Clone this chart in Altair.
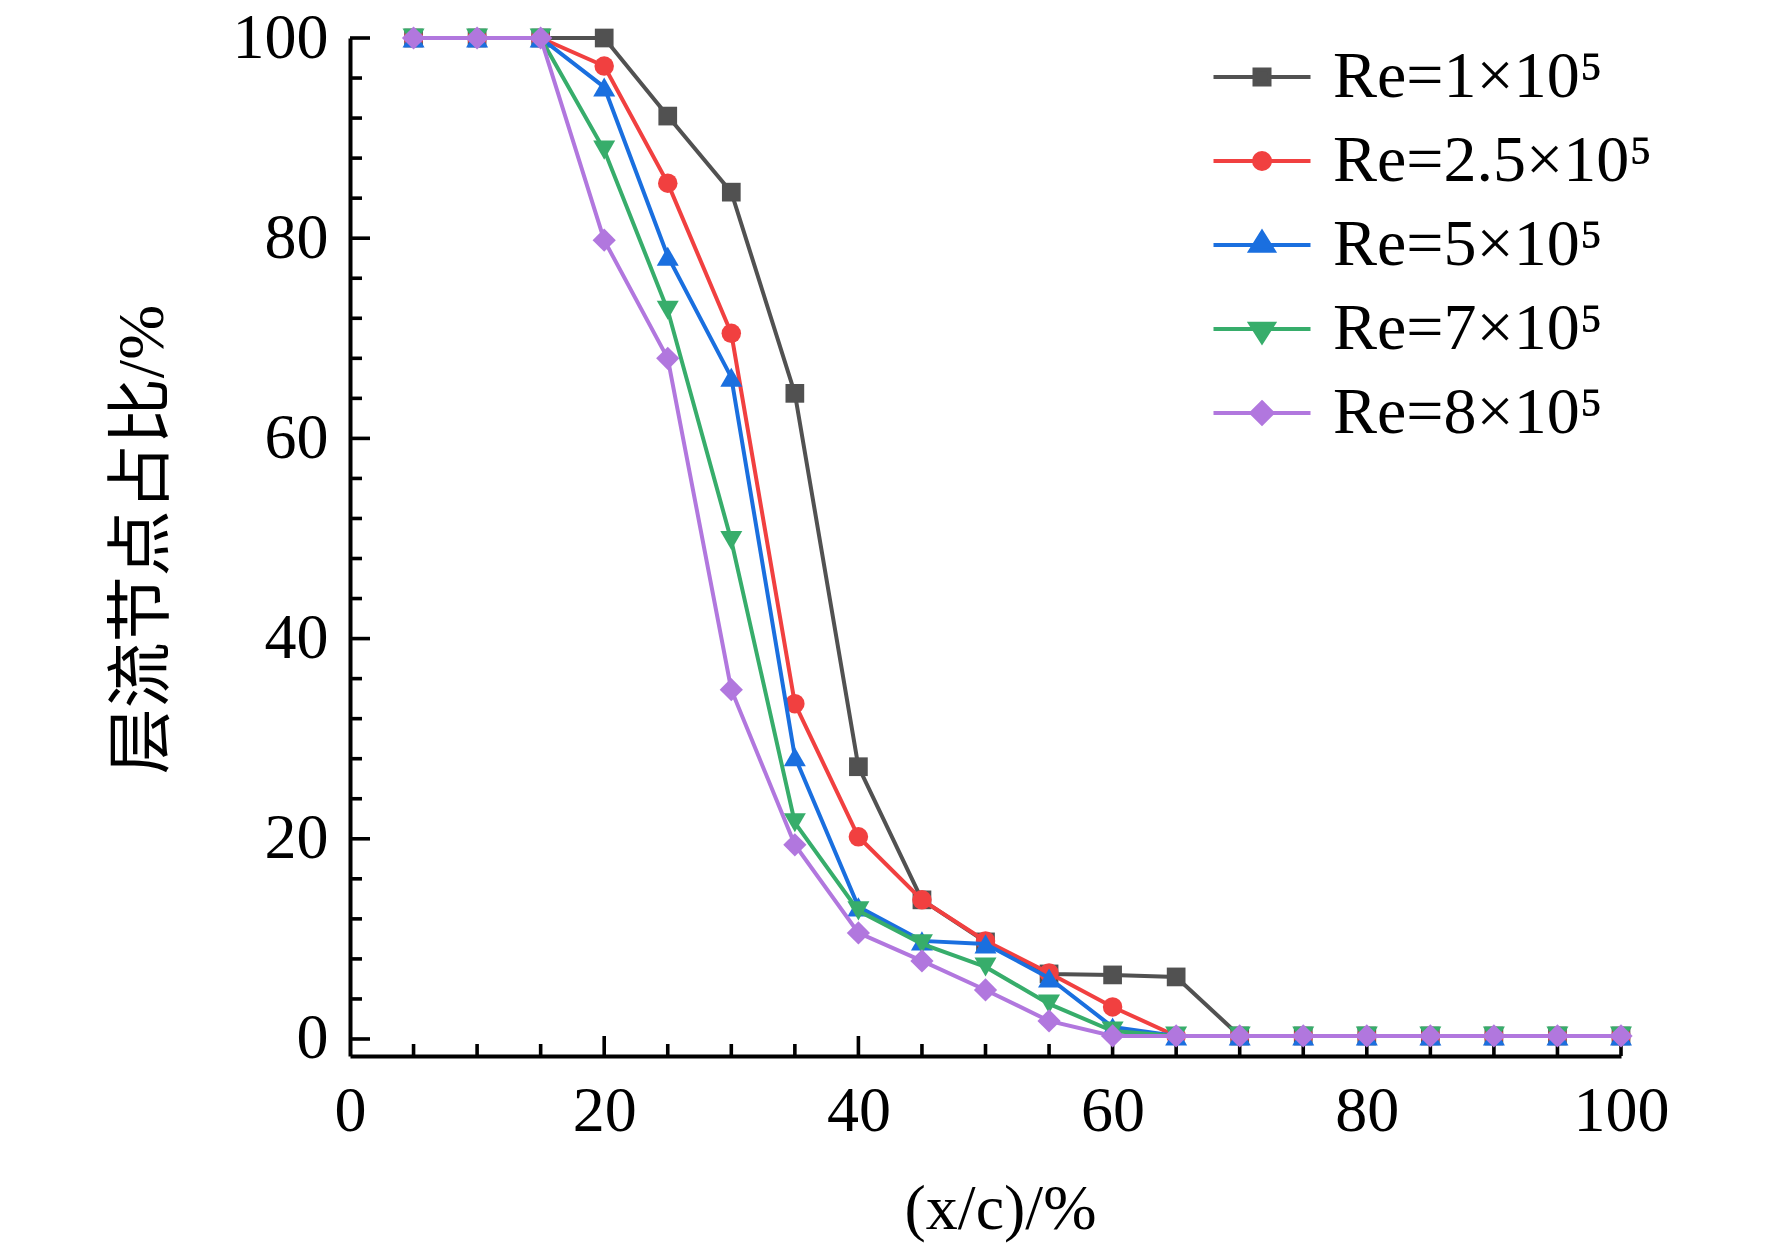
import altair as alt
import pandas as pd

# ---------------- data ----------------
x_pos = [5, 10, 15, 20, 25, 30, 35, 40, 45, 50, 55, 60, 65, 70, 75, 80, 85, 90, 95, 100]

re_1 = [100, 100, 100, 100, 92.2, 84.6, 64.5, 27.2, 13.9, 9.7, 6.5, 6.4, 6.2, 0.3, 0.3, 0.3, 0.3, 0.3, 0.3, 0.3]
re_25 = [100, 100, 100, 97.2, 85.5, 70.5, 33.5, 20.2, 13.9, 9.8, 6.6, 3.2, 0.3, 0.3, 0.3, 0.3, 0.3, 0.3, 0.3, 0.3]
re_5 = [100, 100, 100, 95.1, 78.2, 66.1, 28.2, 13.2, 9.8, 9.5, 6.1, 1.2, 0.3, 0.3, 0.3, 0.3, 0.3, 0.3, 0.3, 0.3]
re_7 = [100, 100, 100, 88.8, 72.8, 49.8, 21.6, 12.8, 9.5, 7.2, 3.5, 0.8, 0.3, 0.3, 0.3, 0.3, 0.3, 0.3, 0.3, 0.3]
re_8 = [100, 100, 100, 79.8, 68.0, 34.9, 19.4, 10.6, 7.8, 4.9, 1.8, 0.3, 0.3, 0.3, 0.3, 0.3, 0.3, 0.3, 0.3, 0.3]

series_labels = ["Re=1×10⁵", "Re=2.5×10⁵", "Re=5×10⁵", "Re=7×10⁵", "Re=8×10⁵"]
series_values = [re_1, re_25, re_5, re_7, re_8]

x_major_ticks = [20, 40, 60, 80, 100]
x_minor_ticks = [5, 10, 15, 25, 30, 35, 45, 50, 55, 65, 70, 75, 85, 90, 95]
y_major_ticks = [0, 20, 40, 60, 80, 100]
y_minor_ticks = [4, 8, 12, 16, 24, 28, 32, 36, 44, 48, 52, 56, 64, 68, 72, 76, 84, 88, 92, 96]
tick_labels = [0, 20, 40, 60, 80, 100]

# ---------------- styles ----------------
colors = ["#515151", "#F14040", "#1A6FDF", "#37AD6B", "#B177DE"]
shapes = ["square", "circle", "triangle-up", "triangle-down", "diamond"]
sizes = [350, 380, 484, 484, 540]
legend_paths = [
    "M-2.425,0H2.425M-0.375,-0.375H0.375V0.375H-0.375Z",
    "M-2.425,0H2.425M-0.4,0A0.4,0.4,0,1,1,0.4,0A0.4,0.4,0,1,1,-0.4,0Z",
    "M-2.425,0H2.425M0,-0.64L0.575,0.29L-0.575,0.29Z",
    "M-2.425,0H2.425M-0.575,-0.26L0.575,-0.26L0,0.64Z",
    "M-2.425,0H2.425M0,-0.525L0.525,0L0,0.525L-0.525,0Z",
]

FONT = "Liberation Serif"
W, H = 1271, 1018
LINE_W = 4

rows = []
for lab, vals in zip(series_labels, series_values):
    for xv, yv in zip(x_pos, vals):
        rows.append({"x": xv, "y": yv, "series": lab})
df = pd.DataFrame(rows)

x_scale = alt.Scale(domain=[0, 100], nice=False, zero=False)
y_scale = alt.Scale(domain=[-1.7, 100], nice=False, zero=False)

x_axis = alt.Axis(
    values=tick_labels, ticks=False, tickSize=0, grid=False,
    labelFont=FONT, labelFontSize=64, labelColor="black", labelPadding=23,
    labelFlush=False,
    domainColor="black", domainWidth=4,
    title="(x/c)/%", titleFont=FONT, titleFontSize=64, titleFontWeight="normal",
    titleColor="black", titleX=650, titleY=172, titleAlign="center",
    titleBaseline="alphabetic",
)
y_axis = alt.Axis(
    values=tick_labels, ticks=False, tickSize=0, grid=False,
    labelFont=FONT, labelFontSize=64, labelColor="black", labelPadding=22,
    labelFlush=False,
    domainColor="black", domainWidth=4,
    title="层流节点占比/%", titleFont=FONT + ", Noto Sans CJK SC", titleFontSize=66,
    titleFontWeight="normal", titleColor="black", titleAngle=270,
    titleX=-188, titleY=501, titleAlign="center", titleBaseline="alphabetic",
)

layers = []

# inward ticks drawn through the scales
def xt(vals, length):
    d = pd.DataFrame({"tx": vals})
    return alt.Chart(d).mark_rule(color="black", strokeWidth=3.6).encode(
        x=alt.X("tx:Q", scale=x_scale, axis=x_axis),
        y=alt.value(H),
        y2=alt.value(H - length),
    )

def yt(vals, length):
    d = pd.DataFrame({"ty": vals})
    return alt.Chart(d).mark_rule(color="black", strokeWidth=3.6).encode(
        y=alt.Y("ty:Q", scale=y_scale, axis=y_axis),
        x=alt.value(0),
        x2=alt.value(length),
    )

layers += [xt(x_major_ticks, 20), xt(x_minor_ticks, 12), yt(y_major_ticks, 20), yt(y_minor_ticks, 12)]

for lab, col, shp, sz in zip(series_labels, colors, shapes, sizes):
    sub = df[df["series"] == lab]
    base = alt.Chart(sub)
    layers.append(
        base.mark_line(color=col, strokeWidth=LINE_W).encode(
            x=alt.X("x:Q", scale=x_scale, axis=x_axis),
            y=alt.Y("y:Q", scale=y_scale, axis=y_axis),
            order="x:Q",
        )
    )
    layers.append(
        base.mark_point(color=col, fill=col, filled=True, shape=shp, size=sz, opacity=1, strokeWidth=0).encode(
            x=alt.X("x:Q", scale=x_scale, axis=x_axis),
            y=alt.Y("y:Q", scale=y_scale, axis=y_axis),
        )
    )

leg = alt.Legend(
    title=None, orient="none", legendX=879, legendY=6,
    labelFont=FONT, labelFontSize=66, labelColor="black", labelOffset=38,
    symbolSize=1600, symbolStrokeWidth=LINE_W, rowPadding=18, padding=0,
    labelLimit=600,
)
color_scale = alt.Scale(domain=series_labels, range=colors)
legend_layer = alt.Chart(df).transform_filter("false").mark_point(
    filled=False, opacity=1, strokeWidth=LINE_W
).encode(
    x=alt.X("x:Q", scale=x_scale, axis=x_axis),
    y=alt.Y("y:Q", scale=y_scale, axis=y_axis),
    color=alt.Color("series:N", scale=color_scale, legend=leg),
    fill=alt.Fill("series:N", scale=color_scale, legend=leg),
    shape=alt.Shape("series:N", scale=alt.Scale(domain=series_labels, range=legend_paths), legend=leg),
)
layers.append(legend_layer)

chart = alt.layer(*layers).properties(
    width=W, height=H,
    autosize=alt.AutoSizeParams(type="none"),
    padding={"left": 342, "top": 30, "right": 140, "bottom": 188},
    background="white",
).configure_view(stroke=None)

chart.save("out.html", embed_options={"renderer": "svg", "actions": False})
